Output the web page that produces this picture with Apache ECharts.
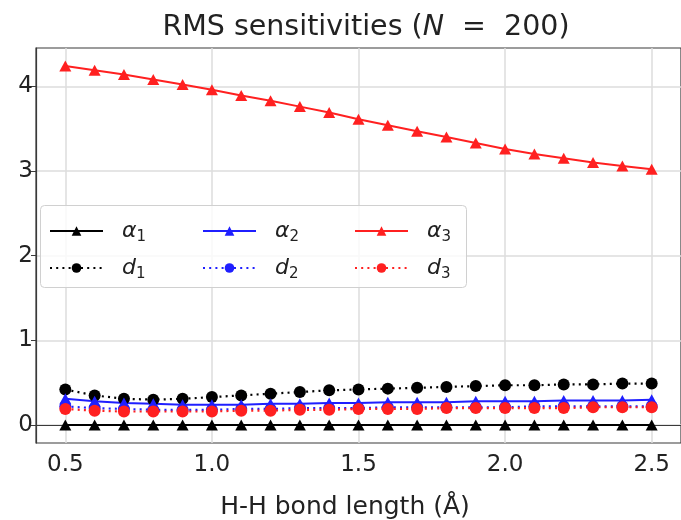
<!DOCTYPE html>
<html>
<head>
<meta charset="utf-8">
<script src="https://cdn.jsdelivr.net/npm/echarts@6/dist/echarts.min.js"></script>
<style>
  html, body { margin: 0; padding: 0; background: #fff; }
  #chart { width: 681px; height: 520px; }
</style>
</head>
<body>
<div id="chart"></div>
<script>
// H-H bond lengths (Å)
const bondLength = [0.5, 0.6, 0.7, 0.8, 0.9, 1.0, 1.1, 1.2, 1.3, 1.4, 1.5,
                    1.6, 1.7, 1.8, 1.9, 2.0, 2.1, 2.2, 2.3, 2.4, 2.5];

// RMS sensitivities, one list per parameter
const alpha1 = [0, 0, 0, 0, 0, 0, 0, 0, 0, 0, 0, 0, 0, 0, 0, 0, 0, 0, 0, 0, 0];
const alpha2 = [0.31, 0.28, 0.26, 0.25, 0.24, 0.24, 0.24, 0.25, 0.25, 0.26, 0.26,
                0.27, 0.27, 0.27, 0.28, 0.28, 0.28, 0.29, 0.29, 0.29, 0.30];
const alpha3 = [4.24, 4.19, 4.14, 4.08, 4.02, 3.96, 3.89, 3.83, 3.76, 3.69, 3.61,
                3.54, 3.47, 3.40, 3.33, 3.26, 3.20, 3.15, 3.10, 3.06, 3.02];
const d1 = [0.42, 0.35, 0.31, 0.30, 0.31, 0.33, 0.35, 0.37, 0.39, 0.41, 0.42,
            0.43, 0.44, 0.45, 0.46, 0.47, 0.47, 0.48, 0.48, 0.49, 0.49];
const d2 = [0.22, 0.20, 0.19, 0.18, 0.18, 0.18, 0.19, 0.19, 0.20, 0.20, 0.20,
            0.21, 0.21, 0.21, 0.21, 0.21, 0.22, 0.22, 0.22, 0.22, 0.22];
const d3 = [0.19, 0.17, 0.16, 0.16, 0.16, 0.16, 0.17, 0.17, 0.18, 0.18, 0.19,
            0.19, 0.19, 0.20, 0.20, 0.20, 0.20, 0.20, 0.21, 0.21, 0.21];

// Tick positions
const xTicks = [0.5, 1.0, 1.5, 2.0, 2.5];
const yTicks = [0, 1, 2, 3, 4];

const FONT = 'DejaVu Sans';
const BLACK = '#000000';
const BLUE = '#1f1fff';
const RED = '#ff2020';

function pairs(ys) {
  return bondLength.map((x, i) => [x, ys[i]]);
}

function solid(name, ys, color) {
  return {
    name, type: 'line', data: pairs(ys),
    symbol: 'triangle', symbolSize: [12, 11],
    lineStyle: { color, width: 2 },
    itemStyle: { color },
    z: 3
  };
}

function dotted(name, ys, color) {
  return {
    name, type: 'line', data: pairs(ys),
    symbol: 'circle', symbolSize: 12,
    lineStyle: { color, width: 2.2, type: [2, 4.2], cap: 'butt' },
    itemStyle: { color },
    z: 3
  };
}

// name -> rich-text label with italic symbol and subscript digit
function mathName(name) {
  return '{m|' + name.slice(0, -1) + '}{s|' + name.slice(-1) + '}';
}

const legendRich = {
  m: { fontFamily: FONT, fontStyle: 'italic', fontSize: 22, color: '#222', padding: [0, 0, 0, 14] },
  s: { fontFamily: FONT, fontSize: 15, color: '#222', padding: [12, 0, 0, 0] }
};

function legendAt(name, left, top) {
  return {
    data: [name], left, top,
    itemWidth: 53, itemHeight: 12,
    selectedMode: false,
    formatter: mathName,
    textStyle: { rich: legendRich },
    padding: 0
  };
}

const colLeft = [49, 202, 354];
const rowTop = [220, 257];

const chart = echarts.init(document.getElementById('chart'), null, { renderer: 'canvas' });

chart.setOption({
  animation: false,
  backgroundColor: '#ffffff',
  title: [
    {
      text: '{n|RMS sensitivities (}{i|N}{n|  =  200)}',
      left: 361, top: 8, textAlign: 'center',
      textStyle: {
        rich: {
          n: { fontFamily: FONT, fontSize: 28.5, fontWeight: 'normal', color: '#222' },
          i: { fontFamily: FONT, fontSize: 28.5, fontWeight: 'normal', fontStyle: 'italic', color: '#222' }
        }
      }
    },
    {
      text: 'H-H bond length (Å)',
      left: 340, top: 490, textAlign: 'center',
      textStyle: { fontFamily: FONT, fontSize: 25, fontWeight: 'normal', color: '#222' }
    }
  ],
  grid: {
    left: 36, top: 48, width: 652, height: 395,
    show: true, borderColor: '#3a3a3a', borderWidth: 1.2, backgroundColor: 'transparent'
  },
  xAxis: {
    type: 'value', min: 0.4, max: 2.6,
    axisLine: { show: true, lineStyle: { color: '#3a3a3a', width: 1.2 } },
    axisTick: { show: true, customValues: xTicks, length: 5, lineStyle: { color: '#3a3a3a' } },
    axisLabel: {
      customValues: xTicks, margin: 11,
      fontFamily: FONT, fontSize: 23, color: '#222',
      formatter: v => v.toFixed(1)
    },
    splitLine: { show: true, lineStyle: { color: '#dcdcdc', width: 1.5 } }
  },
  yAxis: {
    type: 'value', min: -0.212, max: 4.452,
    axisLine: { show: true, lineStyle: { color: '#3a3a3a', width: 1.2 } },
    axisTick: { show: true, customValues: yTicks, length: 5, lineStyle: { color: '#3a3a3a' } },
    axisLabel: {
      customValues: yTicks, margin: 3,
      fontFamily: FONT, fontSize: 23, color: '#222',
      formatter: v => String(Math.round(v))
    },
    splitLine: { show: true, lineStyle: { color: '#dcdcdc', width: 1.5 } }
  },
  graphic: [{
    type: 'rect', left: 40, top: 205, z: 10,
    shape: { width: 426, height: 82, r: 4 },
    style: { fill: 'rgba(255,255,255,0.8)', stroke: '#d0d0d0', lineWidth: 1 }
  }],
  legend: [
    legendAt('α1', colLeft[0], rowTop[0]),
    legendAt('α2', colLeft[1], rowTop[0]),
    legendAt('α3', colLeft[2], rowTop[0]),
    legendAt('d1', colLeft[0], rowTop[1]),
    legendAt('d2', colLeft[1], rowTop[1]),
    legendAt('d3', colLeft[2], rowTop[1])
  ].map(l => Object.assign(l, { z: 20 })),
  series: [
    solid('α1', alpha1, BLACK),
    dotted('d1', d1, BLACK),
    solid('α2', alpha2, BLUE),
    dotted('d2', d2, BLUE),
    solid('α3', alpha3, RED),
    dotted('d3', d3, RED)
  ]
});
</script>
</body>
</html>
